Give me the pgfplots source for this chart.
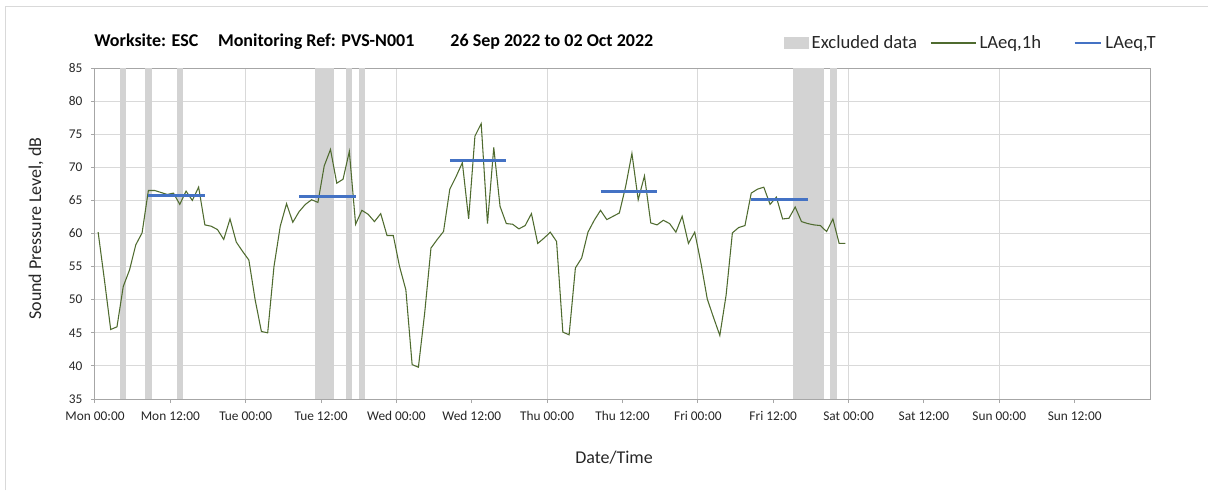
\documentclass[border=0pt]{standalone}
\usepackage{fontspec}
\setmainfont{Carlito}
\usepackage{pgfplots}
\pgfplotsset{compat=1.18}
\usepackage{xcolor}
\definecolor{lineGreen}{HTML}{4F6B2F}
\definecolor{levelBlue}{HTML}{4472C4}
\definecolor{exclGrey}{HTML}{D3D3D3}
\definecolor{gridGrey}{HTML}{D9D9D9}
\definecolor{axisGrey}{HTML}{A6A6A6}
\definecolor{textGrey}{HTML}{262626}

% hourly LAeq,1h, plotted at the middle of each hour (hours from Mon 00:00)
\pgfplotstableread{
h v
0.5 60.2
1.5 53.0
2.5 45.5
3.5 45.9
4.5 52.0
5.5 54.5
6.5 58.3
7.5 60.1
8.5 66.5
9.5 66.5
10.5 66.2
11.5 65.9
12.5 66.1
13.5 64.4
14.5 66.4
15.5 65.0
16.5 67.0
17.5 61.3
18.5 61.1
19.5 60.6
20.5 59.1
21.5 62.2
22.5 58.7
23.5 57.3
24.5 56.0
25.5 50.0
26.5 45.2
27.5 45.0
28.5 55.0
29.5 61.1
30.5 64.5
31.5 61.7
32.5 63.3
33.5 64.4
34.5 65.1
35.5 64.7
36.5 70.2
37.5 72.7
38.5 67.6
39.5 68.2
40.5 72.4
41.5 61.4
42.5 63.5
43.5 62.9
44.5 61.8
45.5 63.0
46.5 59.7
47.5 59.7
48.5 55.0
49.5 51.5
50.5 40.2
51.5 39.8
52.5 48.0
53.5 57.8
54.5 59.1
55.5 60.3
56.5 66.7
57.5 68.6
58.5 70.7
59.5 62.2
60.5 74.7
61.5 76.6
62.5 61.5
63.5 73.0
64.5 64.1
65.5 61.5
66.5 61.4
67.5 60.7
68.5 61.2
69.5 63.0
70.5 58.5
71.5 59.3
72.5 60.2
73.5 58.8
74.5 45.1
75.5 44.7
76.5 54.8
77.5 56.3
78.5 60.2
79.5 62.0
80.5 63.5
81.5 62.1
82.5 62.6
83.5 63.1
84.5 67.1
85.5 72.1
86.5 65.1
87.5 68.7
88.5 61.6
89.5 61.3
90.5 62.0
91.5 61.5
92.5 60.2
93.5 62.6
94.5 58.5
95.5 60.2
96.5 55.5
97.5 50.1
98.5 47.3
99.5 44.6
100.5 50.7
101.5 60.1
102.5 60.9
103.5 61.2
104.5 66.1
105.5 66.7
106.5 67.0
107.5 64.4
108.5 65.5
109.5 62.2
110.5 62.3
111.5 64.0
112.5 61.8
113.5 61.5
114.5 61.3
115.5 61.2
116.5 60.3
117.5 62.2
118.5 58.5
119.5 58.5
}\hourly

\begin{document}
\begin{tikzpicture}
% page frame: 1208 x 490 px at 0.75pt per px, axis origin at (95px, 399px)
\path[use as bounding box] (-71.25pt,-68.25pt) rectangle (834.75pt,299.25pt);
\draw[gridGrey, line width=0.75pt] (-66.75pt,-68.25pt) -- (-66.75pt,294pt) -- (834.75pt,294pt);
\begin{axis}[
  at={(0,0)}, anchor=origin,
  scale only axis,
  width=791.25pt, height=248.25pt,
  xmin=0, xmax=168, ymin=35, ymax=85,
  xtick={0,12,...,156},
  xticklabels={Mon 00:00,Mon 12:00,Tue 00:00,Tue 12:00,Wed 00:00,Wed 12:00,Thu 00:00,Thu 12:00,Fri 00:00,Fri 12:00,Sat 00:00,Sat 12:00,Sun 00:00,Sun 12:00},
  minor xtick={24,48,...,144},
  ytick={35,40,...,85},
  xminorgrids=true, ymajorgrids=true,
  minor tick length=0pt,
  major tick length=3pt,
  tick align=outside,
  xtick pos=bottom, ytick pos=left,
  grid style={gridGrey, line width=0.75pt},
  minor grid style={gridGrey, line width=0.75pt},
  axis line style={axisGrey, line width=0.75pt},
  tick style={axisGrey, line width=0.75pt},
  /pgf/number format/assume math mode=true,
  ticklabel style={font=\fontsize{10}{12}\selectfont, text=textGrey},
  xticklabel style={yshift=-3pt},
  yticklabel style={xshift=-3pt},
  xlabel={Date/Time},
  ylabel={Sound Pressure Level, dB},
  label style={font=\fontsize{13.5}{15}\selectfont, text=textGrey},
  xlabel style={at={(axis description cs:0.492,-0.178)}, anchor=center},
  ylabel style={at={(axis description cs:-0.056,0.515)}, anchor=center},
  title={Worksite: ESC\hspace{1.1em}Monitoring Ref: PVS-N001\hspace{2em}26 Sep 2022 to 02 Oct 2022},
  title style={at={(axis description cs:0,1)}, anchor=west, yshift=14pt, xshift=-4pt,
    font=\bfseries\fontsize{13.5}{15}\selectfont},
  legend style={at={(axis description cs:1.012,1.0755)}, anchor=east, draw=none, fill=none,
    legend columns=3, font=\fontsize{14}{16}\selectfont, text=textGrey,
    /tikz/column 2/.style={column sep=8pt},
    /tikz/column 4/.style={column sep=22pt}},
  legend cell align=left,
  clip=true,
]
% excluded periods
\addplot[fill=exclGrey, draw=none, area legend,
  legend image code/.code={\fill[exclGrey] (0pt,-4.5pt) rectangle (19pt,4.5pt);}]
  coordinates {(4.0,35) (4.0,85) (4.95,85) (4.95,35)} -- cycle;
\addlegendentry{Excluded data}
\addplot[fill=exclGrey, draw=none, forget plot] coordinates {(8.0,35) (8.0,85) (9.0,85) (9.0,35)} -- cycle;
\addplot[fill=exclGrey, draw=none, forget plot] coordinates {(13.05,35) (13.05,85) (13.95,85) (13.95,35)} -- cycle;
\addplot[fill=exclGrey, draw=none, forget plot] coordinates {(35.1,35) (35.1,85) (38.05,85) (38.05,35)} -- cycle;
\addplot[fill=exclGrey, draw=none, forget plot] coordinates {(40.0,35) (40.0,85) (41.0,85) (41.0,35)} -- cycle;
\addplot[fill=exclGrey, draw=none, forget plot] coordinates {(42.0,35) (42.0,85) (43.0,85) (43.0,35)} -- cycle;
\addplot[fill=exclGrey, draw=none, forget plot] coordinates {(111.2,35) (111.2,85) (116.1,85) (116.1,35)} -- cycle;
\addplot[fill=exclGrey, draw=none, forget plot] coordinates {(117.0,35) (117.0,85) (118.1,85) (118.1,35)} -- cycle;
% hourly level
\addplot[lineGreen, line width=0.8pt, no markers,
  legend image code/.code={\draw[lineGreen, line width=0.8pt] (0pt,0pt) -- (34pt,0pt);}]
  table[x=h, y=v] {\hourly};
\addlegendentry{LAeq,1h}
% period levels
\addplot[levelBlue, line width=2.2pt, no markers,
  legend image code/.code={\draw[levelBlue, line width=2.2pt] (0pt,0pt) -- (20pt,0pt);}]
  coordinates {(8.5,65.8) (17.5,65.8)};
\addlegendentry{LAeq,T}
\addplot[levelBlue, line width=2.2pt, no markers, forget plot] coordinates {(32.5,65.6) (41.5,65.6)};
\addplot[levelBlue, line width=2.2pt, no markers, forget plot] coordinates {(56.5,71.0) (65.5,71.0)};
\addplot[levelBlue, line width=2.2pt, no markers, forget plot] coordinates {(80.5,66.4) (89.5,66.4)};
\addplot[levelBlue, line width=2.2pt, no markers, forget plot] coordinates {(104.5,65.2) (113.5,65.2)};
\end{axis}
\end{tikzpicture}
\end{document}
